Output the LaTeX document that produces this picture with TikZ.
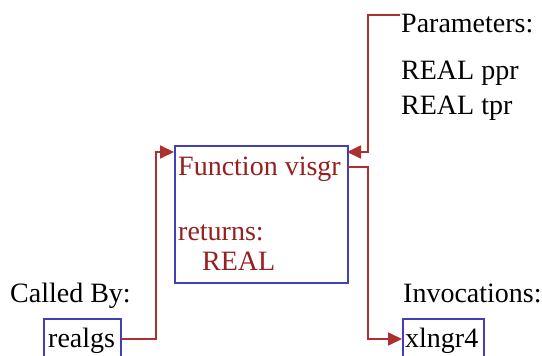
\documentclass[tikz,border=0pt]{standalone}
\usepackage{fontspec}
\setmainfont{Liberation Serif}
\usetikzlibrary{arrows.meta}
\definecolor{boxblue}{RGB}{64,64,184}
\definecolor{txtred}{RGB}{150,32,32}
\definecolor{linered}{RGB}{172,48,48}
\begin{document}
\begin{tikzpicture}[x=1pt,y=-1pt,
  every node/.style={font=\fontsize{28}{33}\selectfont},
  fbox/.style={draw=boxblue,line width=1.8pt,rectangle,inner sep=0pt,anchor=north west},
  lbl/.style={anchor=base west,inner sep=0pt,text=black},
  rlbl/.style={anchor=base west,inner sep=0pt,text=txtred},
  conn/.style={draw=linered,line width=1.8pt},
  arr/.style={conn,-{Triangle[length=14pt,width=13pt]}}]
\useasboundingbox[fill=white] (0,0) rectangle (542,356);
% main function box
\node[fbox,minimum width=173pt,minimum height=137pt] (main) at (174,145) {};
\node[rlbl] (fname) at (178,175) {Function visgr};
\node[rlbl] (ret) at (178,240) {returns:};
\node[rlbl] (rtype) at (202,270) {REAL};
% parameters
\node[lbl] (params) at (401,32) {Parameters:};
\node[lbl] (p1) at (401,79) {REAL ppr};
\node[lbl] (p2) at (401,114) {REAL tpr};
% called by
\node[lbl] (calledby) at (10,302) {Called By:};
\node[fbox,minimum width=77pt,minimum height=50pt] (realgs) at (43,318) {};
\node[lbl] (realgst) at (48,347) {realgs};
% invocations
\node[lbl] (invoc) at (403,302) {Invocations:};
\node[fbox,minimum width=81pt,minimum height=50pt] (xlngr) at (402,318) {};
\node[lbl] (xlngrt) at (405,347) {xlngr4};
% connector coordinates
\coordinate (cA) at (121,339);
\coordinate (cB) at (156,339);
\coordinate (cC) at (156,152);
\coordinate (cD) at (174,152);
\coordinate (pA) at (400,15);
\coordinate (pB) at (368,15);
\coordinate (pC) at (368,152);
\coordinate (pD) at (347,152);
\coordinate (oA) at (347,167);
\coordinate (oB) at (368,167);
\coordinate (oC) at (368,339);
\coordinate (oD) at (402,339);
\draw[arr] (cA) -- (cB) -- (cC) -- (cD);
\draw[arr] (pA) -- (pB) -- (pC) -- (pD);
\draw[arr] (oA) -- (oB) -- (oC) -- (oD);
\end{tikzpicture}
\end{document}
